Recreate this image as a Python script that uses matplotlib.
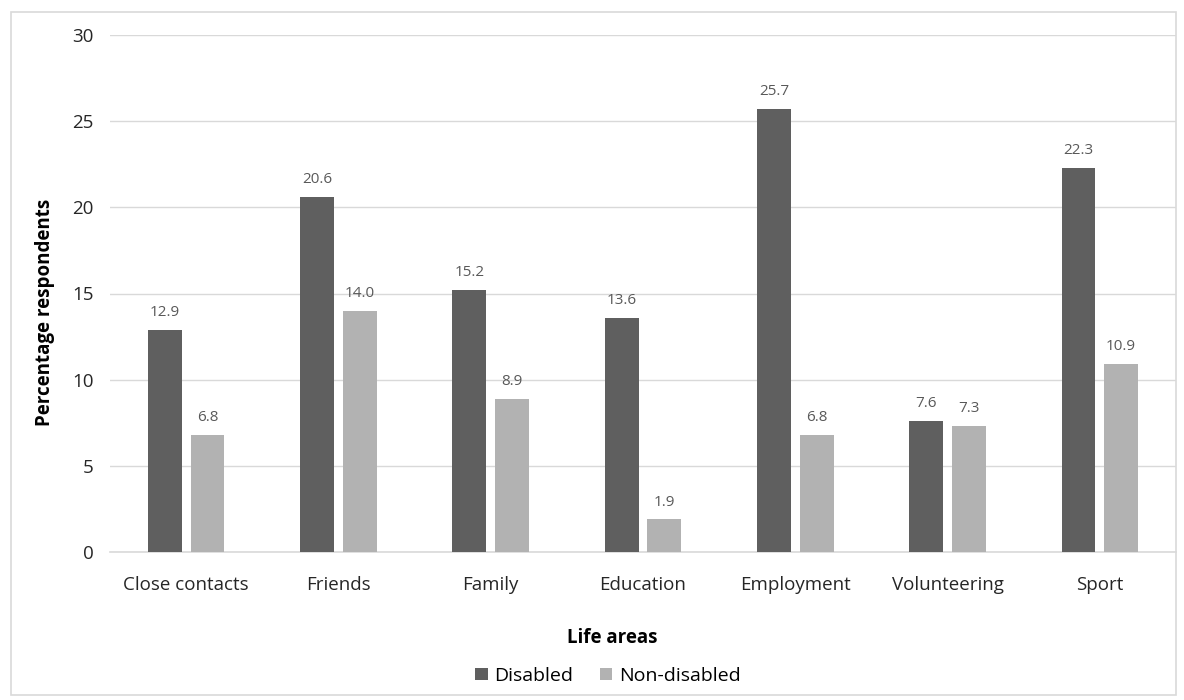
import matplotlib
matplotlib.use("Agg")
import matplotlib.pyplot as plt
import numpy as np
from matplotlib.patches import Rectangle

categories = ["Close contacts", "Friends", "Family", "Education",
              "Employment", "Volunteering", "Sport"]
disabled = [12.9, 20.6, 15.2, 13.6, 25.7, 7.6, 22.3]
non_disabled = [6.8, 14.0, 8.9, 1.9, 6.8, 7.3, 10.9]
series_names = ["Disabled", "Non-disabled"]
y_ticks = [0, 5, 10, 15, 20, 25, 30]

plt.rcParams["font.family"] = ["Open Sans", "DejaVu Sans"]

W, H = 1184, 700
fig = plt.figure(figsize=(W / 100, H / 100), dpi=100)
ax = fig.add_axes([110 / W, 1 - 552 / H, (1176 - 110) / W, (552 - 35) / H])

x = np.arange(len(categories))
bw = 0.222
gap = 0.058
off = (bw + gap) / 2
c_dark = "#5f5f5f"
c_light = "#b2b2b2"

b1 = ax.bar(x - off, disabled, bw, color=c_dark, label=series_names[0], zorder=3)
b2 = ax.bar(x + off, non_disabled, bw, color=c_light, label=series_names[1], zorder=3)

for bars, vals in ((b1, disabled), (b2, non_disabled)):
    for r, v in zip(bars, vals):
        ax.annotate(f"{v:.1f}", (r.get_x() + r.get_width() / 2, v),
                    xytext=(0, 7), textcoords="offset points",
                    ha="center", va="bottom", fontsize=11, color="#595959")

ax.set_xlim(-0.5, len(categories) - 0.5)
ax.set_ylim(0, 30)
ax.set_yticks(y_ticks)
ax.set_xticks(x)
ax.set_xticklabels(categories)
ax.grid(axis="y", color="#d9d9d9", linewidth=1, zorder=0)
for s in ["top", "right", "left"]:
    ax.spines[s].set_visible(False)
ax.spines["bottom"].set_color("#d9d9d9")
ax.spines["bottom"].set_linewidth(1.2)
ax.tick_params(axis="both", length=0, labelsize=13.5)
ax.tick_params(axis="y", pad=12)
ax.tick_params(axis="x", pad=17)
for t in ax.get_xticklabels() + ax.get_yticklabels():
    t.set_color("#262626")

fig.text(45 / W, 1 - 312 / H, "Percentage respondents", rotation=90,
         ha="center", va="center", fontsize=13.5, fontweight="bold", color="#000000")
fig.text(612 / W, 1 - 638 / H, "Life areas", ha="center", va="center",
         fontsize=13.5, fontweight="bold", color="#000000")

fig.legend(handles=[b1, b2], labels=series_names, loc="center",
           bbox_to_anchor=(608 / W, 1 - 676 / H), ncol=2, frameon=False,
           fontsize=14, handlelength=0.62, handleheight=0.62, handletextpad=0.36,
           columnspacing=1.35)

fig.patches.append(Rectangle((11 / W, 1 - 695 / H), (1176 - 11) / W, (695 - 12) / H,
                             transform=fig.transFigure, fill=False,
                             edgecolor="#d9d9d9", linewidth=1.2))

fig.savefig("out.png", dpi=100, facecolor="white")
